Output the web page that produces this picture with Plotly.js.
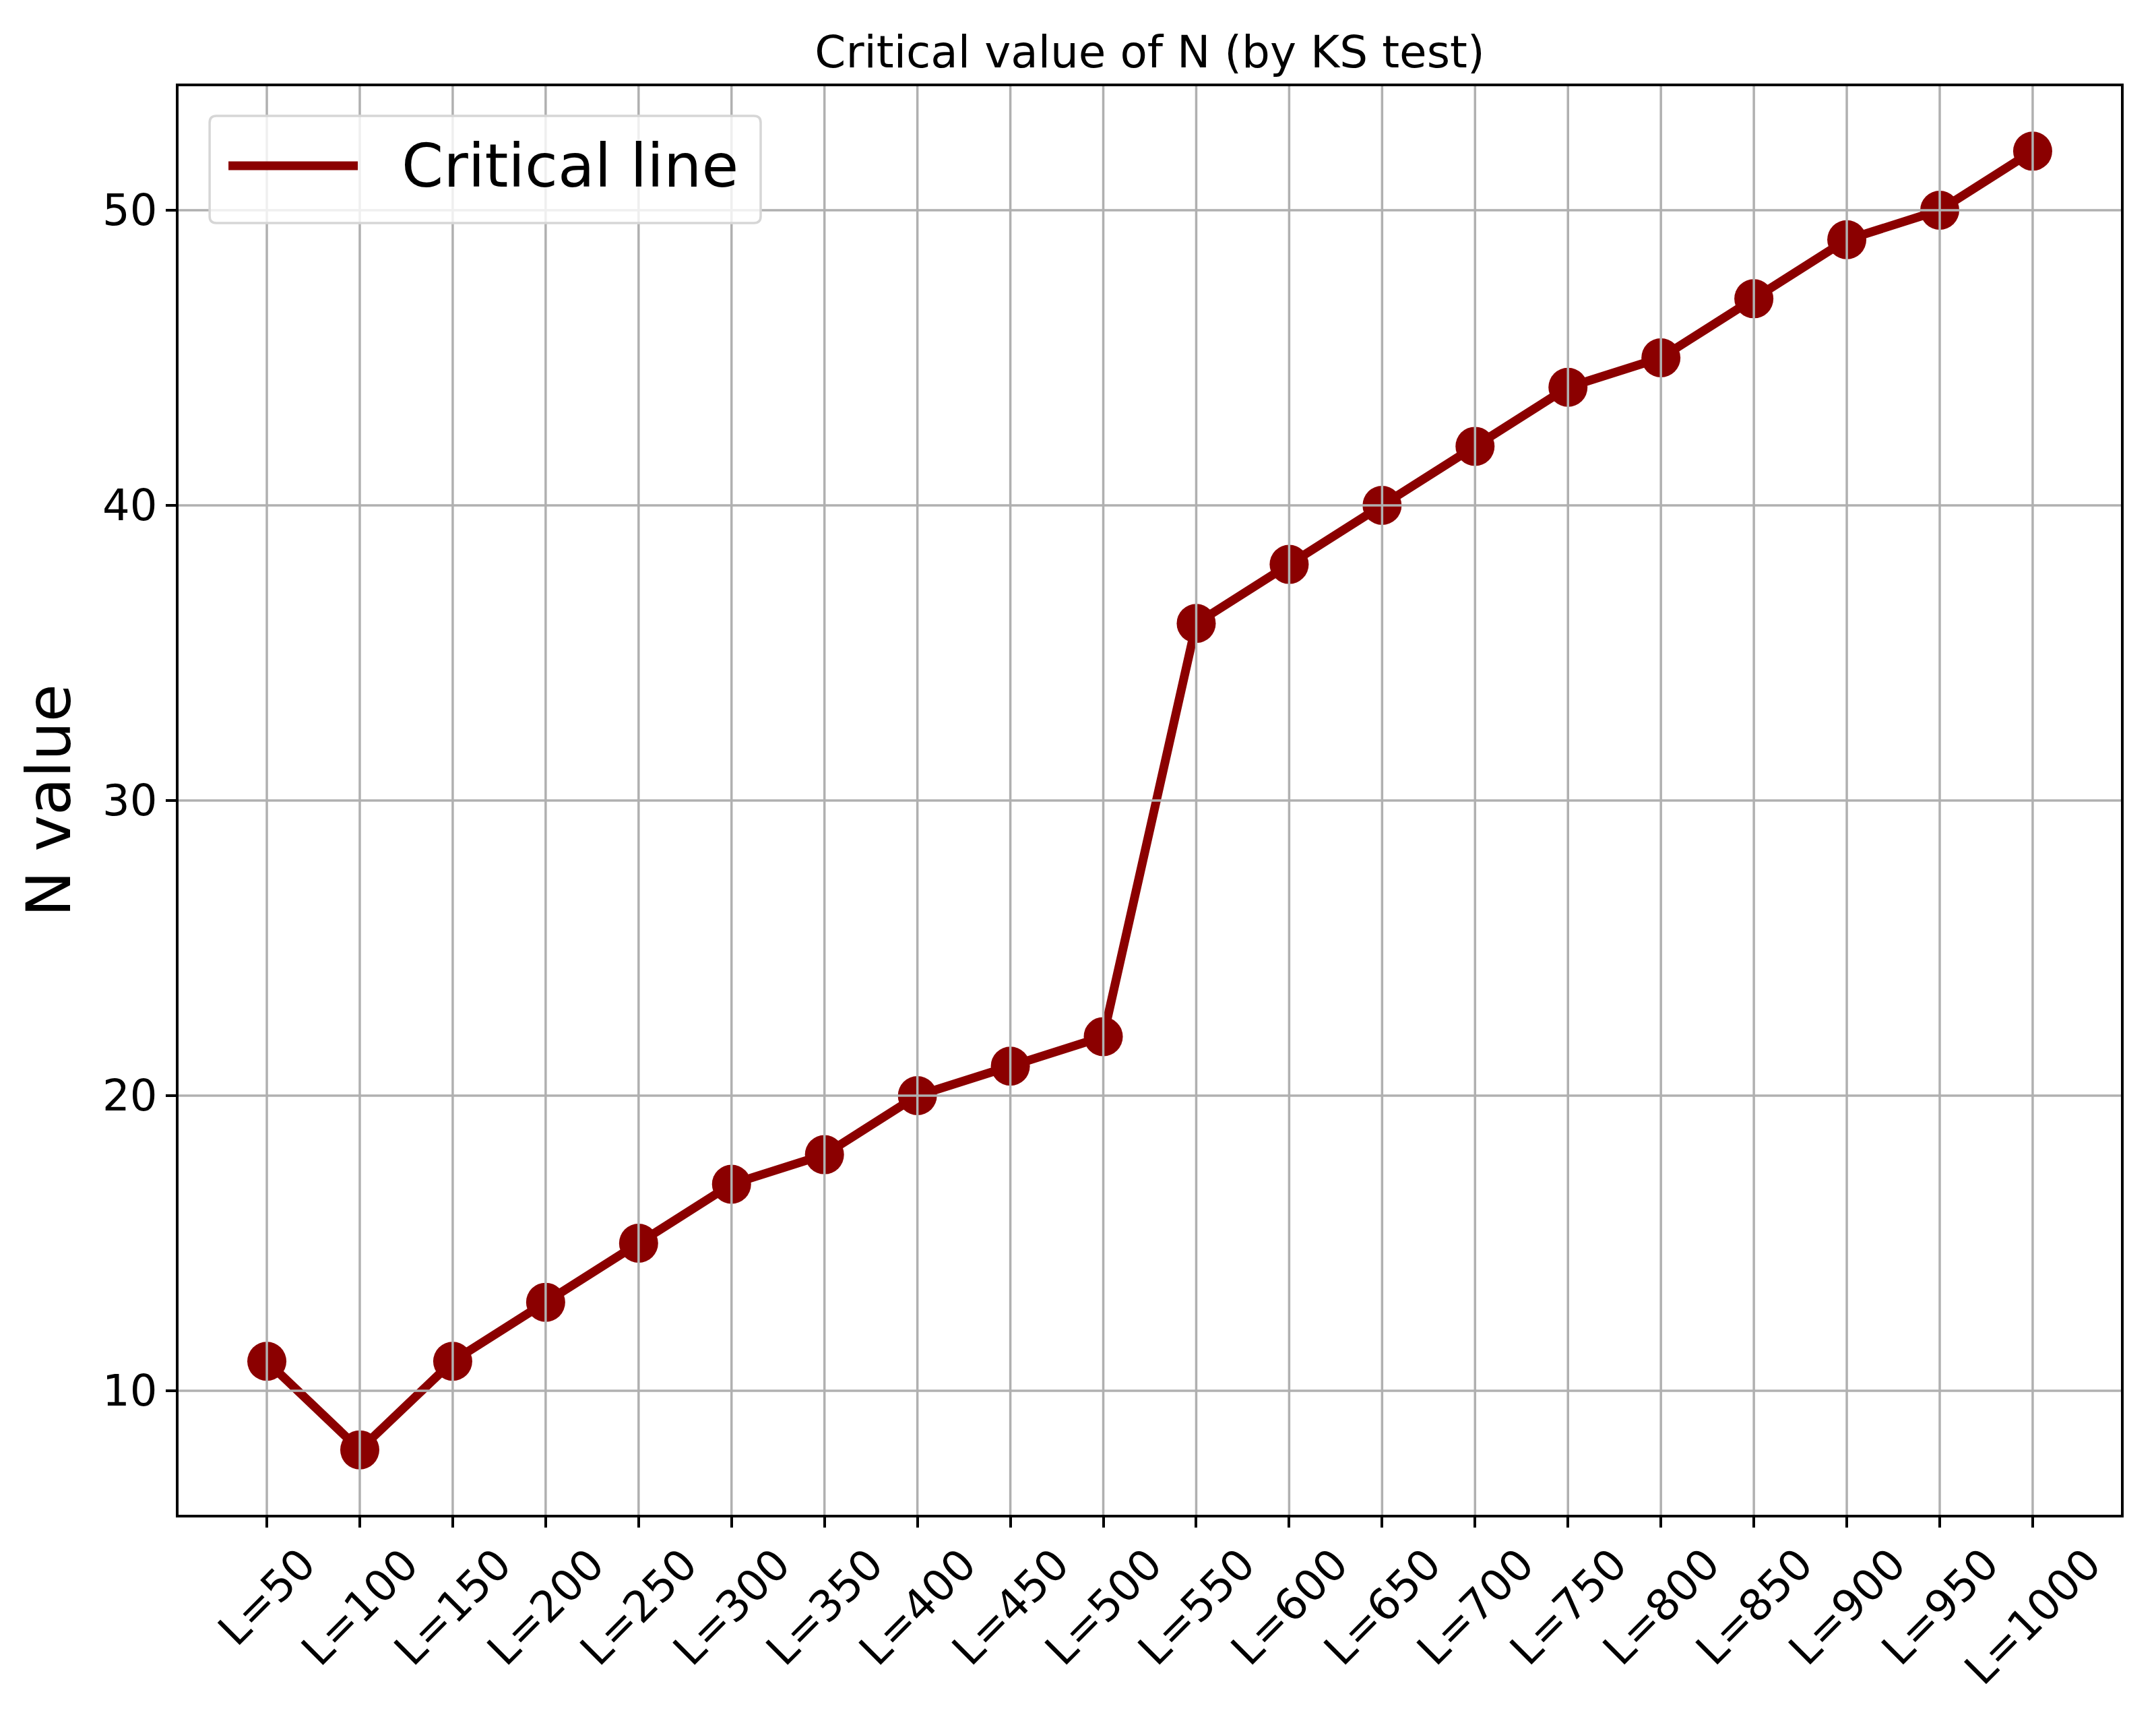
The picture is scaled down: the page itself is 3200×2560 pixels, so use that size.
<!DOCTYPE html>
<html>
<head>
<meta charset="utf-8">
<script src="https://cdn.plot.ly/plotly-3.0.1.min.js"></script>
<style>
  body { margin: 0; background: #fff; }
  #chart { width: 3200px; height: 2560px; }
</style>
</head>
<body>
<div id="chart"></div>
<script>
// window sizes L and the critical N found by the KS test
var lLabels = ["L=50", "L=100", "L=150", "L=200", "L=250", "L=300", "L=350", "L=400", "L=450", "L=500",
               "L=550", "L=600", "L=650", "L=700", "L=750", "L=800", "L=850", "L=900", "L=950", "L=1000"];
var nValues = [11, 8, 11, 13, 15, 17, 18, 20, 21, 22, 36, 38, 40, 42, 44, 45, 47, 49, 50, 52];
var yTicks = [10, 20, 30, 40, 50];
var seriesName = "Critical line";

var lineColor = "#8b0000";
var font = "DejaVu Sans, sans-serif";
var xIdx = lLabels.map((s, i) => i);

// line and the dots on top of it
var lineTrace = {
    x: xIdx,
    y: nValues,
    type: "scatter",
    mode: "lines",
    name: seriesName,
    line: {color: lineColor, width: 13}
};
var dotTrace = {
    x: xIdx,
    y: nValues,
    type: "scatter",
    mode: "markers",
    marker: {color: lineColor, size: 58}
};

// grid drawn above the traces, like the original
var gridStyle = {color: "#b0b0b0", width: 3.5};
var shapes = [];
xIdx.forEach(i => shapes.push({type: "line", layer: "above", xref: "x", yref: "paper",
    x0: i, x1: i, y0: 0, y1: 1, line: gridStyle}));
yTicks.forEach(v => shapes.push({type: "line", layer: "above", xref: "paper", yref: "y",
    x0: 0, x1: 1, y0: v, y1: v, line: gridStyle}));

// legend box (plotly's own legend caps the line width, so draw it here)
var pw = 2883, ph = 2120;   // plot area in px
var bx0 = 0.016, bx1 = 0.2997, by0 = 0.9042, by1 = 0.9792;
var rx = 10 / pw, ry = 10 / ph;
shapes.push({
    type: "path", layer: "above", xref: "paper", yref: "paper",
    path: "M" + (bx0 + rx) + "," + by1 + " L" + (bx1 - rx) + "," + by1 +
          " Q" + bx1 + "," + by1 + " " + bx1 + "," + (by1 - ry) +
          " L" + bx1 + "," + (by0 + ry) +
          " Q" + bx1 + "," + by0 + " " + (bx1 - rx) + "," + by0 +
          " L" + (bx0 + rx) + "," + by0 +
          " Q" + bx0 + "," + by0 + " " + bx0 + "," + (by0 + ry) +
          " L" + bx0 + "," + (by1 - ry) +
          " Q" + bx0 + "," + by1 + " " + (bx0 + rx) + "," + by1 + " Z",
    fillcolor: "rgba(255,255,255,0.8)",
    line: {color: "#d6d6d6", width: 3.5}
});
shapes.push({type: "line", layer: "above", xref: "paper", yref: "paper",
    x0: 0.0257, x1: 0.0923, y0: 0.9443, y1: 0.9443,
    line: {color: lineColor, width: 13}});

// rotated x tick labels, centred under each tick
var annotations = lLabels.map((s, i) => ({
    text: s, xref: "x", x: i, yref: "paper", y: 0,
    xanchor: "center", yanchor: "top", yshift: -33,
    textangle: -45, showarrow: false,
    font: {family: font, size: 64, color: "#000"}
}));
annotations.push({
    text: seriesName, xref: "paper", x: 0.1141, yref: "paper", y: 0.9443,
    xanchor: "left", yanchor: "middle", showarrow: false,
    font: {family: font, size: 89, color: "#000"}
});

var axisCommon = {
    showline: true, mirror: true, linecolor: "#000", linewidth: 3.5,
    ticks: "outside", ticklen: 15, tickwidth: 3.5, tickcolor: "#000",
    showgrid: false, zeroline: false,
    tickfont: {family: font, size: 64, color: "#000"}
};

var layout = {
    width: 3200,
    height: 2560,
    paper_bgcolor: "#fff",
    plot_bgcolor: "#fff",
    margin: {l: 265, r: 52, t: 128, b: 312},
    title: {
        text: "Critical value of N (by KS test)",
        font: {family: font, size: 66, color: "#000"},
        xref: "paper", x: 0.5, xanchor: "center",
        yref: "container", y: 0.970, yanchor: "middle"
    },
    xaxis: Object.assign({}, axisCommon, {
        range: [-0.95, 19.95],
        tickvals: xIdx,
        showticklabels: false
    }),
    yaxis: Object.assign({}, axisCommon, {
        range: [5.8, 54.2],
        tickvals: yTicks,
        title: {text: "N value", font: {family: font, size: 91, color: "#000"}, standoff: 18}
    }),
    showlegend: false,
    shapes: shapes,
    annotations: annotations
};

Plotly.newPlot("chart", [lineTrace, dotTrace], layout, {displayModeBar: false});
</script>
</body>
</html>
